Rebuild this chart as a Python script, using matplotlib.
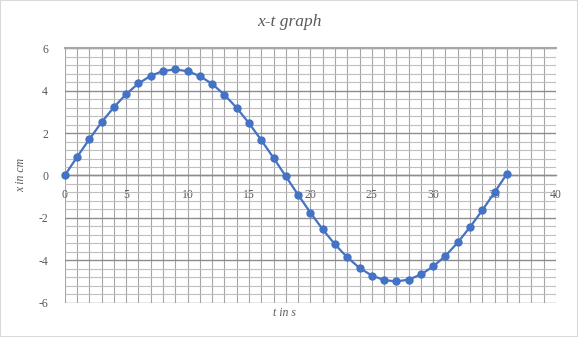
import matplotlib
matplotlib.use("Agg")
import matplotlib.pyplot as plt
from matplotlib.ticker import MultipleLocator
from matplotlib.patches import Rectangle

plt.rcParams["axes.unicode_minus"] = False

t_values = list(range(0, 37))
x_values = [0.00, 0.87, 1.71, 2.51, 3.22, 3.84, 4.34, 4.70, 4.93, 5.00,
            4.92, 4.69, 4.32, 3.81, 3.19, 2.47, 1.67, 0.83, -0.04, -0.91,
            -1.75, -2.54, -3.25, -3.86, -4.36, -4.72, -4.93, -5.00, -4.91, -4.67,
            -4.29, -3.79, -3.16, -2.43, -1.64, -0.79, 0.08]
x_ticks = [0, 5, 10, 15, 20, 25, 30, 35, 40]
y_ticks = [-6, -4, -2, 0, 2, 4, 6]
title = "x-t graph"
xlabel = "t in s"
ylabel = "x in cm"

fig = plt.figure(figsize=(5.78, 3.37), dpi=100)
fig.patch.set_facecolor("white")
fig.patches.append(Rectangle((0, 0), 1, 1, transform=fig.transFigure,
                             fill=False, edgecolor="#d9d9d9", linewidth=1.5))

ax = fig.add_axes([0.112, 0.1018, 0.850, 0.7549])
ax.set_xlim(0, 40)
ax.set_ylim(-6, 6)

# gridlines
ax.xaxis.set_major_locator(MultipleLocator(5))
ax.xaxis.set_minor_locator(MultipleLocator(1))
ax.yaxis.set_major_locator(MultipleLocator(2))
ax.yaxis.set_minor_locator(MultipleLocator(0.4))
ax.grid(which="major", axis="y", color="#8c8c8c", linewidth=1.0)
ax.grid(which="minor", axis="y", color="#bfbfbf", linewidth=0.8)
ax.grid(which="both", axis="x", color="#a6a6a6", linewidth=0.8)
ax.set_axisbelow(True)

for s in ["left", "right"]:
    ax.spines[s].set_visible(False)
ax.spines["top"].set_color("#a6a6a6")
ax.spines["top"].set_linewidth(1.5)
ax.spines["bottom"].set_position(("data", 0))
ax.spines["bottom"].set_color("#8c8c8c")
ax.spines["bottom"].set_linewidth(1.0)

ax.set_xticks(x_ticks)
ax.set_yticks(y_ticks)
ax.tick_params(which="both", length=0)
ax.tick_params(axis="x", pad=10)
ax.tick_params(axis="y", pad=12)
for lab in ax.get_xticklabels() + ax.get_yticklabels():
    lab.set_fontfamily("Liberation Serif")
    lab.set_fontsize(8.5)
    lab.set_color("#595959")

ax.plot(t_values, x_values, color="#4472c4", linewidth=1.6,
        marker="o", markersize=5, markerfacecolor="#4472c4",
        markeredgecolor="#4472c4", zorder=3, clip_on=False)

fig.text(0.5, 0.935, title, ha="center", va="center",
         fontfamily="Liberation Serif", fontstyle="italic",
         fontsize=12.5, color="#595959")
fig.text(0.493, 0.072, xlabel, ha="center", va="center",
         fontfamily="Liberation Serif", fontstyle="italic",
         fontsize=8.5, color="#595959")
fig.text(0.036, 0.48, ylabel, ha="center", va="center", rotation=90,
         fontfamily="Liberation Serif", fontstyle="italic",
         fontsize=8.5, color="#595959")

fig.savefig("out.png", dpi=100, facecolor="white")
